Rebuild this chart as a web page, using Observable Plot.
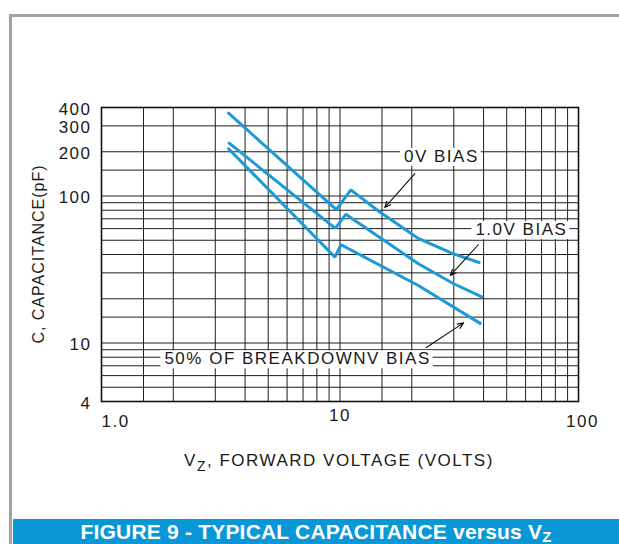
<!DOCTYPE html>
<html>
<head>
<meta charset="utf-8">
<script src="https://cdn.jsdelivr.net/npm/d3@7"></script>
<script src="https://cdn.jsdelivr.net/npm/@observablehq/plot@0.6"></script>
<style>
  body { margin: 0; background: #fff; }
  #wrap { position: relative; width: 619px; height: 544px; overflow: hidden; background: #fff;
          font-family: "Liberation Sans", Arial, sans-serif; }
  #frame { position: absolute; left: 9px; top: 14px; width: 620px; height: 540px; box-sizing: border-box;
           border-top: 3px solid #a2a2a4; border-left: 3px solid #a2a2a4; }
  #chart { position: absolute; left: 0; top: 0; }
  #chart svg text { letter-spacing: 1.5px; }
  #bar { position: absolute; left: 13px; top: 519px; width: 606px; height: 25px; box-sizing: border-box;
         padding-top: 2px; background: #0a97d7; color: #fff; font-weight: bold; font-size: 21px;
         line-height: 22px; text-align: center; white-space: nowrap; letter-spacing: 0.2px; }
  #bar sub { font-size: 15px; vertical-align: -3px; line-height: 0; }
</style>
</head>
<body>
<div id="wrap">
  <div id="frame"></div>
  <div id="chart"></div>
  <div id="bar">FIGURE 9 - TYPICAL CAPACITANCE versus V<sub>Z</sub></div>
</div>
<script>
// ---- grid and tick values ----
const xGrid = [1, 1.5, 2, 3, 4, 5, 6, 7, 8, 9, 10, 15, 20, 30, 40, 50, 60, 70, 80, 90, 100];
const yGrid = [4, 5, 6, 7, 8, 9, 10, 15, 20, 30, 40, 50, 60, 70, 80, 90, 100, 150, 200, 300, 400];
const yTicks = [4, 8, 10, 100, 200, 300, 400];
const xTickLeft = [1];
const xTickMid = [10];
const xTickRight = [100];
const xTickLabel = {1: "1.0", 10: "10", 100: "100"};

// ---- series (Vz in volts, C in pF) ----
const bias0V_x = [3.41, 9.65, 11.1, 14.4, 21.3, 29.7, 38.3];
const bias0V_y = [366, 80.9, 110, 79.7, 51.4, 40.6, 35.3];
const bias1V_x = [3.43, 9.56, 10.57, 21.3, 29.7, 39.3];
const bias1V_y = [228.7, 60.3, 75.1, 34.6, 25.5, 20.6];
const bias50_x = [3.41, 9.52, 10.1, 21.3, 38.7];
const bias50_y = [209.5, 38.4, 46.6, 24.6, 13.6];

// ---- annotations ----
const labelText = ["0V BIAS", "1.0V BIAS", "50% OF BREAKDOWNV BIAS"];
const labelX = [26.6, 57.6, 6.64];
const labelY = [186, 59, 7.8];
const arrowX1 = [20.6, 38.0, 23.0];
const arrowY1 = [142, 46.6, 9.32];
const arrowX2 = [15.4, 29.0, 33.0];
const arrowY2 = [83.5, 28.8, 13.7];

const rows = [];
[["0V", bias0V_x, bias0V_y], ["1.0V", bias1V_x, bias1V_y], ["50%", bias50_x, bias50_y]]
  .forEach(([s, xs, ys]) => xs.forEach((x, i) => rows.push({series: s, x, y: ys[i]})));
const labels = labelText.map((t, i) => ({t, x: labelX[i], y: labelY[i]}));
const arrows = arrowX1.map((x1, i) => ({x1, y1: arrowY1[i], x2: arrowX2[i], y2: arrowY2[i]}));

const gridColor = "#1e1e1e";
const fmt = d => xTickLabel[d];

const chart = Plot.plot({
  width: 619,
  height: 490,
  marginLeft: 101,
  marginRight: 41,
  marginTop: 107,
  marginBottom: 89,
  x: {type: "log", domain: [1, 100]},
  y: {type: "log", domain: [4, 400]},
  style: {fontFamily: "'Liberation Sans', Arial, sans-serif", fontSize: "17px", color: "#1a1a1a", background: "transparent"},
  marks: [
    Plot.ruleX(xGrid, {stroke: gridColor, strokeWidth: 1}),
    Plot.ruleY(yGrid, {stroke: gridColor, strokeWidth: 1}),
    Plot.frame({stroke: "#111", strokeWidth: 1.6}),
    Plot.axisY(yTicks, {tickSize: 0, tickPadding: 10, dy: 2, label: null, tickFormat: d => String(d), fontSize: 17}),
    Plot.axisX(xTickLeft, {tickSize: 0, tickPadding: 13, textAnchor: "start", label: null, tickFormat: fmt, fontSize: 17}),
    Plot.axisX(xTickMid, {tickSize: 0, tickPadding: 7, label: null, tickFormat: fmt, fontSize: 17}),
    Plot.axisX(xTickRight, {tickSize: 0, tickPadding: 13, dx: 4, label: null, tickFormat: fmt, fontSize: 17}),
    Plot.text(labels, {x: "x", y: "y", text: "t", fill: "#1a1a1a", fontSize: 17}),
    Plot.line(rows, {x: "x", y: "y", z: "series", stroke: "#1b9ad6", strokeWidth: 3, strokeLinejoin: "miter"}),
    Plot.arrow(arrows, {x1: "x1", y1: "y1", x2: "x2", y2: "y2", stroke: "#111", strokeWidth: 1.1,
      headLength: 9, headAngle: 45})
  ]
});

document.getElementById("chart").appendChild(chart);
const svg = d3.select(chart);

// white boxes behind the annotation labels (sized from the rendered text)
svg.selectAll('g[aria-label="text"] text').each(function () {
  const b = this.getBBox();
  d3.select(this.parentNode).insert("rect", () => this)
    .attr("transform", this.getAttribute("transform"))
    .attr("x", b.x - 4).attr("y", b.y + 1)
    .attr("width", b.width + 6).attr("height", b.height - 1)
    .attr("fill", "white");
});

// x-axis title with subscript
const xt = svg.append("text")
  .attr("x", 339).attr("y", 466).attr("text-anchor", "middle")
  .attr("fill", "#1a1a1a").attr("font-size", 17);
xt.append("tspan").text("V");
xt.append("tspan").attr("dy", 5).attr("font-size", 14).text("Z");
xt.append("tspan").attr("dy", -5).text(", FORWARD VOLTAGE (VOLTS)");
// y-axis title
svg.append("text")
  .attr("transform", "translate(44,254) rotate(-90)")
  .attr("text-anchor", "middle").attr("fill", "#1a1a1a").attr("font-size", 16)
  .style("letter-spacing", "1px")
  .text("C, CAPACITANCE(pF)");
</script>
</body>
</html>
